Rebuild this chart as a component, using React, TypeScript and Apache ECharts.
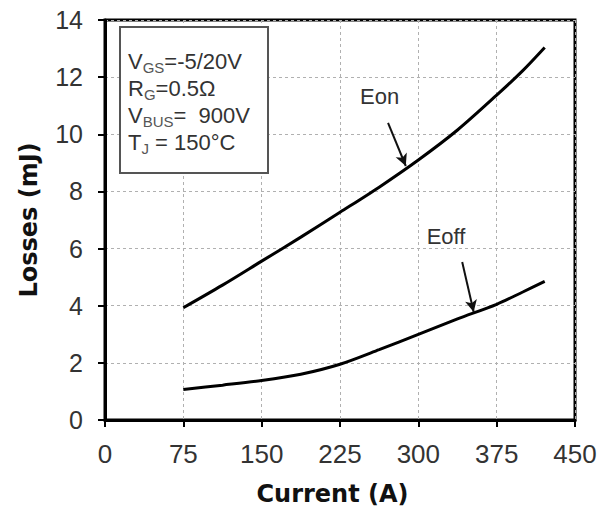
import React, { useEffect, useRef } from "react";
import * as echarts from "echarts";

const currents = [75, 112.5, 150, 187.5, 225, 262.5, 300, 337.5, 375, 400, 421];
const eonValues = [3.93, 4.72, 5.56, 6.4, 7.27, 8.15, 9.1, 10.15, 11.37, 12.23, 13.04];
const eoffValues = [1.07, 1.22, 1.38, 1.6, 1.95, 2.46, 3.0, 3.54, 4.05, 4.48, 4.85];

const eonLabel = { text: "Eon", at: [263, 11.34] };
const eoffLabel = { text: "Eoff", at: [326.5, 6.44] };
const eonArrow = [[271, 10.4], [288, 8.89]];
const eoffArrow = [[342, 5.53], [353, 3.78]];

const xTicks = { min: 0, max: 450, interval: 75 };
const yTicks = { min: 0, max: 14, interval: 2 };

const conditionLines = [
  ["V", "GS", "=-5/20V"],
  ["R", "G", "=0.5Ω"],
  ["V", "BUS", "=  900V"],
  ["T", "J", " = 150°C"],
];

const LABEL_FONT = "'Liberation Sans', Arial, sans-serif";
const TITLE_FONT = "'DejaVu Sans', Verdana, sans-serif";

function pairs(xs: number[], ys: number[]) {
  return xs.map((x, i) => [x, ys[i]]);
}

function annotations(label: { text: string; at: number[] }, arrow: number[][]) {
  return {
    markLine: {
      silent: true,
      symbol: ["none", "arrow"],
      symbolSize: [9, 12],
      label: { show: false },
      lineStyle: { color: "#111", width: 2, type: "solid" },
      emphasis: { disabled: true },
      data: [[{ coord: arrow[0] }, { coord: arrow[1] }]],
    },
    markPoint: {
      silent: true,
      symbol: "circle",
      symbolSize: 1,
      itemStyle: { color: "rgba(0,0,0,0)" },
      label: {
        show: true,
        position: "inside",
        formatter: label.text,
        fontSize: 22,
        fontFamily: LABEL_FONT,
        color: "#333",
      },
      data: [{ coord: label.at, value: label.text }],
    },
  };
}

export default function App() {
  const ref = useRef<HTMLDivElement>(null);
  useEffect(() => {
    if (!ref.current) return;
    const chart = echarts.init(ref.current, null, { renderer: "svg" });
    const richText = conditionLines
      .map((l) => `{m|${l[0]}}{s|${l[1]}}{m|${l[2]}}`)
      .join("\n");
    const gridLine = { show: true, lineStyle: { color: "#b0b0b0", width: 1, type: [3, 3] } };
    chart.setOption({
      animation: false,
      backgroundColor: "#fff",
      grid: {
        left: 105,
        top: 20,
        width: 470,
        height: 400,
        show: true,
        borderColor: "#000",
        borderWidth: 3,
        backgroundColor: "transparent",
        outerBoundsMode: "none",
        containLabel: false,
      },
      xAxis: {
        type: "value",
        min: xTicks.min,
        max: xTicks.max,
        interval: xTicks.interval,
        name: "Current (A)",
        nameLocation: "middle",
        nameGap: 62,
        nameTextStyle: {
          fontFamily: TITLE_FONT,
          fontWeight: "bold",
          fontSize: 24,
          color: "#111",
          padding: [0, 15, 0, 0],
        },
        axisLine: { show: true, onZero: false, lineStyle: { color: "#000", width: 3 } },
        axisTick: { show: true, inside: false, length: 7, lineStyle: { color: "#000", width: 2 } },
        axisLabel: { fontFamily: LABEL_FONT, fontSize: 26, color: "#333", margin: 21 },
        splitLine: gridLine,
      },
      yAxis: {
        type: "value",
        min: yTicks.min,
        max: yTicks.max,
        interval: yTicks.interval,
        name: "Losses (mJ)",
        nameLocation: "middle",
        nameGap: 64,
        nameTextStyle: {
          fontFamily: TITLE_FONT,
          fontWeight: "bold",
          fontSize: 24,
          color: "#111",
        },
        axisLine: { show: true, onZero: false, lineStyle: { color: "#000", width: 3 } },
        axisTick: { show: true, inside: false, length: 7, lineStyle: { color: "#000", width: 2 } },
        axisLabel: { fontFamily: LABEL_FONT, fontSize: 25, color: "#333", margin: 22 },
        splitLine: gridLine,
      },
      series: [
        {
          name: "Eon",
          type: "line",
          data: pairs(currents, eonValues),
          smooth: 0.3,
          showSymbol: false,
          silent: true,
          lineStyle: { color: "#000", width: 3 },
          emphasis: { disabled: true },
          z: 3,
          ...annotations(eonLabel, eonArrow),
        },
        {
          name: "Eoff",
          type: "line",
          data: pairs(currents, eoffValues),
          smooth: 0.3,
          showSymbol: false,
          silent: true,
          lineStyle: { color: "#000", width: 3 },
          emphasis: { disabled: true },
          z: 3,
          ...annotations(eoffLabel, eoffArrow),
        },
      ],
      graphic: [
        {
          type: "rect",
          z: 100,
          shape: { x: 120, y: 27, width: 148, height: 146 },
          style: { fill: "#fff", stroke: "#555", lineWidth: 2 },
        },
        {
          type: "text",
          z: 101,
          x: 128,
          y: 48,
          style: {
            text: richText,
            align: "left",
            verticalAlign: "top",
            fill: "#333",
            font: `22px ${LABEL_FONT}`,
            rich: {
              m: {
                fontSize: 22,
                fontFamily: LABEL_FONT,
                lineHeight: 27,
                verticalAlign: "middle",
                fill: "#333",
                color: "#333",
              },
              s: {
                fontSize: 15,
                fontFamily: LABEL_FONT,
                lineHeight: 20,
                verticalAlign: "bottom",
                fill: "#555",
                color: "#555",
              },
            },
          },
        },
      ],
    });
    return () => chart.dispose();
  }, []);
  return (
    <div
      ref={ref}
      style={{ position: "absolute", left: 0, top: 0, width: 611, height: 516 }}
    />
  );
}
